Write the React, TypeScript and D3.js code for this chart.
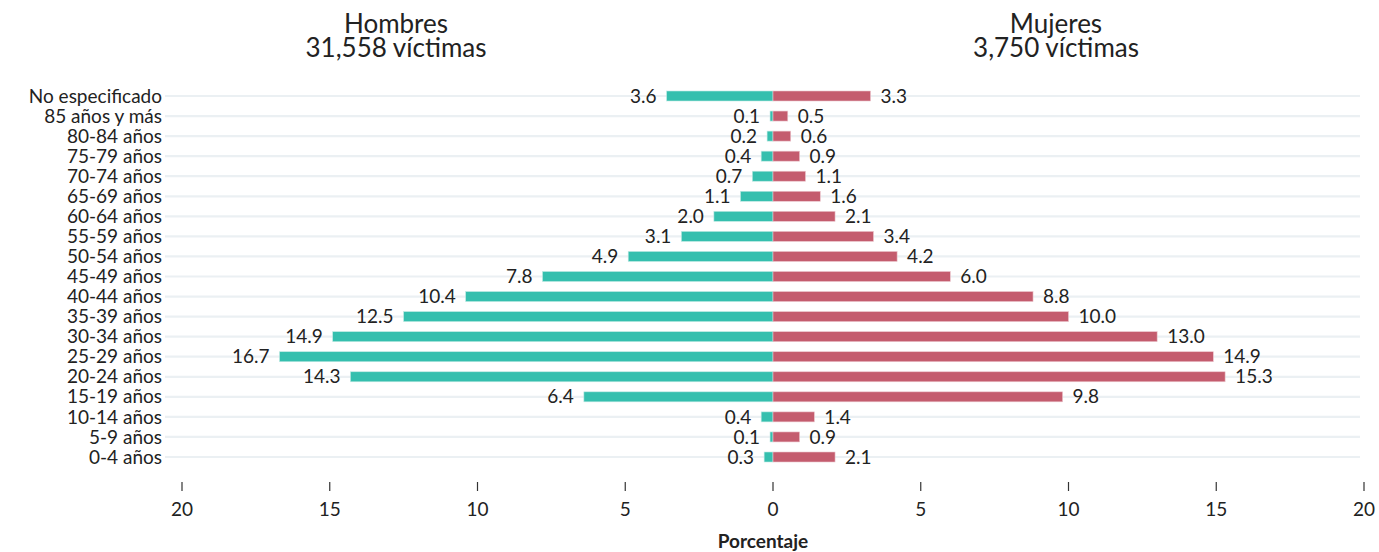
import React from 'react';
import * as d3 from 'd3';

// age groups, top to bottom
const categories = [
  'No especificado', '85 años y más', '80-84 años', '75-79 años', '70-74 años',
  '65-69 años', '60-64 años', '55-59 años', '50-54 años', '45-49 años',
  '40-44 años', '35-39 años', '30-34 años', '25-29 años', '20-24 años',
  '15-19 años', '10-14 años', '5-9 años', '0-4 años',
];
const hombres = [3.6, 0.1, 0.2, 0.4, 0.7, 1.1, 2.0, 3.1, 4.9, 7.8, 10.4, 12.5, 14.9, 16.7, 14.3, 6.4, 0.4, 0.1, 0.3];
const mujeres = [3.3, 0.5, 0.6, 0.9, 1.1, 1.6, 2.1, 3.4, 4.2, 6.0, 8.8, 10.0, 13.0, 14.9, 15.3, 9.8, 1.4, 0.9, 2.1];
const ticks = [0, 5, 10, 15, 20];

const W = 1379;
const H = 552;
const zero = 773;
const font = 'Lato, "Open Sans", sans-serif';
const ink = '#222';
const fs = 19;

const App: React.FC = () => {
  const xL = d3.scaleLinear().domain([0, 20]).range([zero, 182]);
  const xR = d3.scaleLinear().domain([0, 20]).range([zero, 1364]);
  const y = d3.scalePoint<string>().domain(categories).range([96, 457]);
  const barH = 10;

  return (
    <svg width={W} height={H} style={{ position: 'absolute', left: 0, top: 0, fontFamily: font }}>
      <rect width={W} height={H} fill="#fff" />

      {/* titles */}
      <text x={396} y={33} textAnchor="middle" fontSize={26} fill={ink}>Hombres</text>
      <text x={396} y={57} textAnchor="middle" fontSize={26} fill={ink}>31,558 víctimas</text>
      <text x={1056} y={33} textAnchor="middle" fontSize={26} fill={ink}>Mujeres</text>
      <text x={1056} y={57} textAnchor="middle" fontSize={26} fill={ink}>3,750 víctimas</text>

      {/* gridlines */}
      {categories.map(c => (
        <line key={'g' + c} x1={165} x2={1360} y1={y(c)} y2={y(c)} stroke="#ebf0f3" strokeWidth={2.2} />
      ))}

      {/* category labels */}
      {categories.map(c => (
        <text key={'c' + c} x={162} y={y(c)} dy="0.35em" textAnchor="end" fontSize={fs} fill={ink}>{c}</text>
      ))}

      {/* bars */}
      {categories.map((c, i) => (
        <g key={'b' + c}>
          <rect x={xL(hombres[i])} y={(y(c) ?? 0) - barH / 2} width={zero - xL(hombres[i])} height={barH}
            fill="#35bfae" stroke="#bfe9e3" strokeWidth={0.6} />
          <rect x={zero} y={(y(c) ?? 0) - barH / 2} width={xR(mujeres[i]) - zero} height={barH}
            fill="#c45c6e" stroke="#ecc7ce" strokeWidth={0.6} />
          <text x={xL(hombres[i]) - 10} y={y(c)} dy="0.35em" textAnchor="end" fontSize={fs} fill={ink}>
            {hombres[i].toFixed(1)}
          </text>
          <text x={xR(mujeres[i]) + 10} y={y(c)} dy="0.35em" textAnchor="start" fontSize={fs} fill={ink}>
            {mujeres[i].toFixed(1)}
          </text>
        </g>
      ))}

      {/* x axes */}
      {ticks.map(t => (
        <g key={'tl' + t} transform={`translate(${xL(t)},0)`}>
          <line y1={482} y2={491} stroke="#333" strokeWidth={1.2} />
          <text y={509} dy="0.35em" textAnchor="middle" fontSize={fs} fill={ink}>{t}</text>
        </g>
      ))}
      {ticks.filter(t => t > 0).map(t => (
        <g key={'tr' + t} transform={`translate(${xR(t)},0)`}>
          <line y1={482} y2={491} stroke="#333" strokeWidth={1.2} />
          <text y={509} dy="0.35em" textAnchor="middle" fontSize={fs} fill={ink}>{t}</text>
        </g>
      ))}
      <text x={763} y={541} dy="0.35em" textAnchor="middle" fontSize={fs} fontWeight="bold" fill={ink}>Porcentaje</text>
    </svg>
  );
};

export default App;
